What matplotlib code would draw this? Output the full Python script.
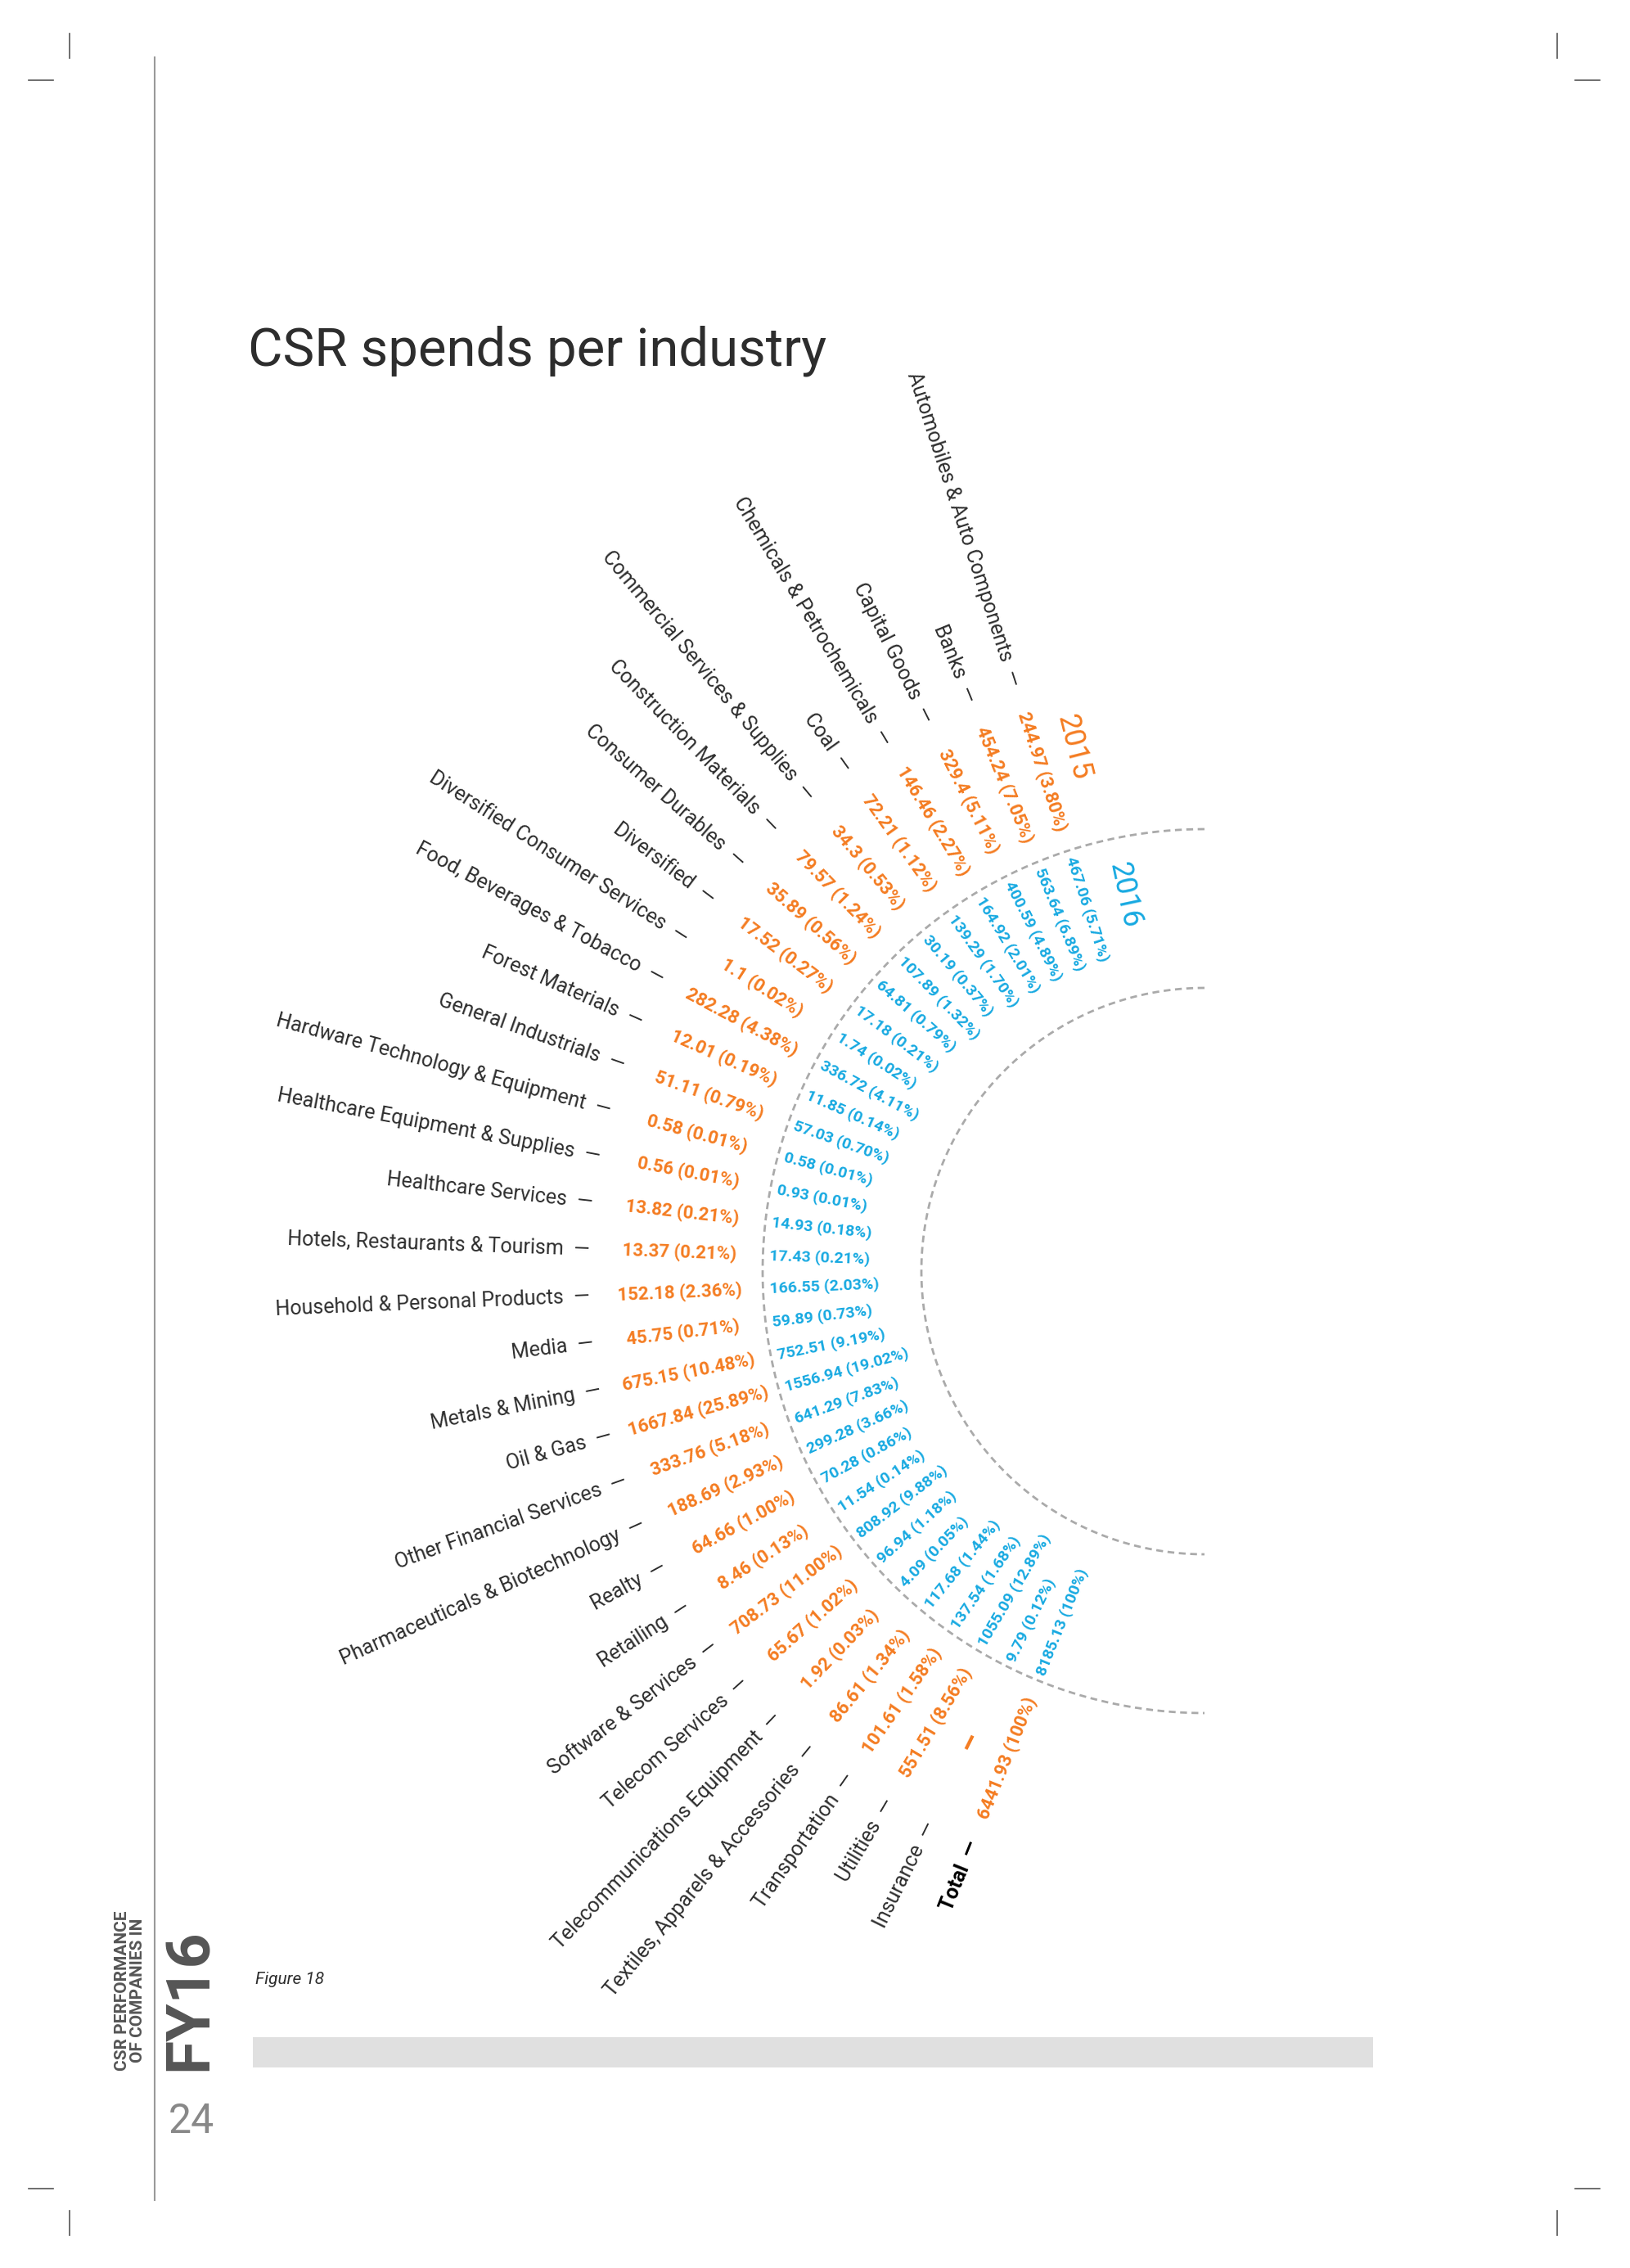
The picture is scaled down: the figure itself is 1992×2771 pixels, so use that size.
import numpy as np
import matplotlib.pyplot as plt
from matplotlib.patches import Rectangle

plt.rcParams['font.family'] = ['Roboto', 'DejaVu Sans']

industries = ['Automobiles & Auto Components', 'Banks', 'Capital Goods', 'Chemicals & Petrochemicals',
              'Coal', 'Commercial Services & Supplies', 'Construction Materials', 'Consumer Durables',
              'Diversified', 'Diversified Consumer Services', 'Food, Beverages & Tobacco', 'Forest Materials',
              'General Industrials', 'Hardware Technology & Equipment', 'Healthcare Equipment & Supplies',
              'Healthcare Services', 'Hotels, Restaurants & Tourism', 'Household & Personal Products', 'Media',
              'Metals & Mining', 'Oil & Gas', 'Other Financial Services', 'Pharmaceuticals & Biotechnology',
              'Realty', 'Retailing', 'Software & Services', 'Telecom Services', 'Telecommunications Equipment',
              'Textiles, Apparels & Accessories', 'Transportation', 'Utilities', 'Insurance', 'Total']
spend_2015 = [244.97, 454.24, 329.4, 146.46, 72.21, 34.3, 79.57, 35.89, 17.52, 1.1, 282.28, 12.01, 51.11,
              0.58, 0.56, 13.82, 13.37, 152.18, 45.75, 675.15, 1667.84, 333.76, 188.69, 64.66, 8.46,
              708.73, 65.67, 1.92, 86.61, 101.61, 551.51, None, 6441.93]
pct_2015 = [3.80, 7.05, 5.11, 2.27, 1.12, 0.53, 1.24, 0.56, 0.27, 0.02, 4.38, 0.19, 0.79, 0.01, 0.01, 0.21,
            0.21, 2.36, 0.71, 10.48, 25.89, 5.18, 2.93, 1.00, 0.13, 11.00, 1.02, 0.03, 1.34, 1.58, 8.56, None, 100]
spend_2016 = [467.06, 563.64, 400.59, 164.92, 139.29, 30.19, 107.89, 64.81, 17.18, 1.74, 336.72, 11.85, 57.03,
              0.58, 0.93, 14.93, 17.43, 166.55, 59.89, 752.51, 1556.94, 641.29, 299.28, 70.28, 11.54,
              808.92, 96.94, 4.09, 117.68, 137.54, 1055.09, 9.79, 8185.13]
pct_2016 = [5.71, 6.89, 4.89, 2.01, 1.70, 0.37, 1.32, 0.79, 0.21, 0.02, 4.11, 0.14, 0.70, 0.01, 0.01, 0.18,
            0.21, 2.03, 0.73, 9.19, 19.02, 7.83, 3.66, 0.86, 0.14, 9.88, 1.18, 0.05, 1.44, 1.68, 12.89, 0.12, 100]

ORANGE = '#f47b20'
BLUE = '#16a9e1'
DARK = '#2d2d2d'

W, H = 1992, 2771
fig = plt.figure(figsize=(W / 100, H / 100), dpi=100)
ax = fig.add_axes([0, 0, 1, 1])
ax.set_xlim(0, W)
ax.set_ylim(0, H)
ax.axis('off')


def fmt(v, p):
    if v is None:
        return '–'
    ps = '100' if p == 100 else f'{p:.2f}'
    return f'{v:g} ({ps}%)'


cx, cy = 1472, 1218
thetas = np.linspace(108, 248, len(industries))

# dashed arcs
t = np.radians(np.linspace(90, 270, 300))
for r in (540, 346):
    ax.plot(cx + r * np.cos(t), cy + r * np.sin(t), ls=(0, (3, 2)), color='#aaaaaa', lw=2)

for i, name in enumerate(industries):
    th = thetas[i]
    rad = np.radians(th)
    rot = th + 180 - 360
    c, s = np.cos(rad), np.sin(rad)
    bold = name == 'Total'
    ax.text(cx + 752 * c, cy + 752 * s, name + '  —', rotation=rot, rotation_mode='anchor',
            ha='right', va='center', fontsize=18, color='black' if bold else DARK,
            fontweight='bold' if bold else 'normal')
    ax.text(cx + 642 * c, cy + 642 * s, fmt(spend_2015[i], pct_2015[i]), rotation=rot,
            rotation_mode='anchor', ha='center', va='center', fontsize=16 if spend_2015[i] else 26,
            color=ORANGE, fontweight='bold')
    ax.text(cx + 532 * c, cy + 532 * s, fmt(spend_2016[i], pct_2016[i]), rotation=rot,
            rotation_mode='anchor', ha='left', va='center', fontsize=14, color=BLUE, fontweight='bold')

# year labels
for yr, th, r, col in (('2015', 104, 660, ORANGE), ('2016', 102, 470, BLUE)):
    ax.text(cx + r * np.cos(np.radians(th)), cy + r * np.sin(np.radians(th)), yr, rotation=th + 180 - 360,
            rotation_mode='anchor', ha='center', va='center', fontsize=26, color=col)

ax.text(303, 2325, 'CSR spends per industry', fontsize=47, color=DARK, ha='left', va='baseline')

# page furniture
ax.plot([189, 189], [83, 2701], color='#999999', lw=1.5)
ax.text(159, 241, 'CSR PERFORMANCE\nOF COMPANIES IN', rotation=90, ha='center', va='bottom',
        fontsize=15, fontweight='bold', color='#555555', linespacing=1.0)
ax.text(233, 241, 'FY16', rotation=90, ha='center', va='bottom', fontsize=54, fontweight='bold', color='#555555')
ax.text(234, 179, '24', ha='center', va='center', fontsize=36, color='#888888')
ax.text(312, 352, 'Figure 18', ha='left', va='center', fontsize=15, style='italic', color=DARK)
ax.add_patch(Rectangle((309, 245), 1369, 37, color='#e0e0e0', lw=0))

# crop marks
for x in (85, 1903):
    ax.plot([x, x], [2700, 2730], color='#555555', lw=1.2)
    ax.plot([x, x], [40, 70], color='#555555', lw=1.2)
for x0 in (35, 1925):
    ax.plot([x0, x0 + 30], [2673, 2673], color='#555555', lw=1.2)
    ax.plot([x0, x0 + 30], [97, 97], color='#555555', lw=1.2)

fig.savefig('out.png', dpi=100, facecolor='white')
